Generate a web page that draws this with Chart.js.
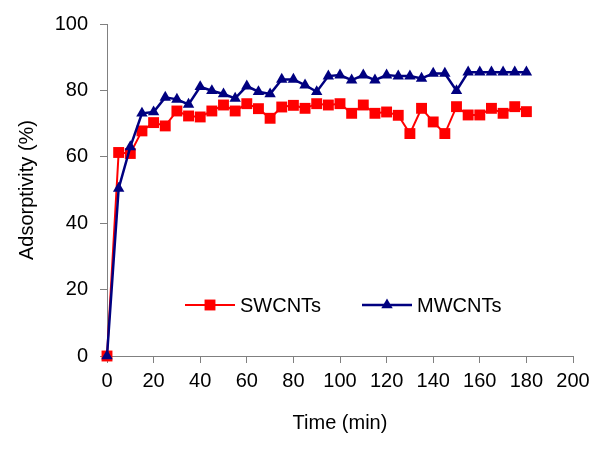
<!DOCTYPE html>
<html><head><meta charset="utf-8">
<script src="https://cdn.jsdelivr.net/npm/chart.js@4/dist/chart.umd.min.js"></script>
<style>html,body{margin:0;padding:0;background:#fff}</style>
</head><body>
<canvas id="c" width="600" height="456"></canvas>
<script>
const timeMin = [0,5,10,15,20,25,30,35,40,45,50,55,60,65,70,75,80,85,90,95,100,105,110,115,120,125,130,135,140,145,150,155,160,165,170,175,180];
const swcnts = [0,61.3,61,67.8,70.3,69.3,73.8,72.3,72,73.8,75.6,73.8,76,74.5,71.6,75,75.5,74.6,76,75.6,76,73.1,75.6,73.1,73.5,72.5,67,74.6,70.5,67,75.1,72.6,72.6,74.6,73.1,75.1,73.6];
const mwcnts = [0,50.5,63,73.1,73.5,77.9,77.3,75.8,81.1,79.9,78.9,77.6,81.3,79.6,78.9,83.3,83.3,81.6,79.6,84.3,84.6,83.1,84.6,83.1,84.6,84.3,84.3,83.6,85.1,85.1,79.9,85.5,85.5,85.5,85.5,85.5,85.5];
const seriesNames = ['SWCNTs','MWCNTs'];
const xTitle = 'Time (min)';
const yTitle = 'Adsorptivity (%)';

const FONT = '"Liberation Sans", Arial, sans-serif';
const AXIS = '#808080';

const inlineLegend = {
  id: 'inlineLegend',
  afterDraw(chart) {
    const ctx = chart.ctx;
    const spots = [{x0:185, x1:235, y:305}, {x0:362, x1:412, y:305}];
    chart.data.datasets.forEach((ds, i) => {
      const s = spots[i];
      ctx.save();
      ctx.strokeStyle = ds.borderColor;
      ctx.lineWidth = ds.borderWidth;
      ctx.beginPath(); ctx.moveTo(s.x0, s.y); ctx.lineTo(s.x1, s.y); ctx.stroke();
      ctx.fillStyle = ds.pointBackgroundColor;
      Chart.helpers.drawPoint(ctx, {pointStyle: ds.pointStyle, radius: ds.pointRadius, rotation: 0, borderWidth: 0}, (s.x0 + s.x1) / 2, s.y);
      ctx.font = '20px ' + FONT;
      ctx.fillStyle = '#000';
      ctx.textAlign = 'left';
      ctx.textBaseline = 'middle';
      ctx.fillText(ds.label, s.x1 + 5, s.y + 1);
      ctx.restore();
    });
  }
};

new Chart(document.getElementById('c'), {
  type: 'line',
  data: {
    datasets: [
      {
        label: seriesNames[0],
        data: timeMin.map((t, i) => ({x: t, y: swcnts[i]})),
        borderColor: '#FF0000', backgroundColor: '#FF0000',
        pointBackgroundColor: '#FF0000', pointBorderWidth: 0,
        borderWidth: 2, pointStyle: 'rect', pointRadius: 7.7,
        tension: 0, clip: false, order: 2
      },
      {
        label: seriesNames[1],
        data: timeMin.map((t, i) => ({x: t, y: mwcnts[i]})),
        borderColor: '#000080', backgroundColor: '#000080',
        pointBackgroundColor: '#000080', pointBorderWidth: 0,
        borderWidth: 2.5, pointStyle: 'triangle', pointRadius: 6.6,
        tension: 0, clip: false, order: 1
      }
    ]
  },
  options: {
    responsive: false,
    animation: false,
    devicePixelRatio: 1,
    layout: {padding: {left: 0, right: 27, top: 24, bottom: 0}},
    plugins: {legend: {display: false}, tooltip: {enabled: false}},
    elements: {point: {hoverRadius: 7}},
    scales: {
      x: {
        type: 'linear', min: 0, max: 200,
        ticks: {stepSize: 20, color: '#000', font: {family: FONT, size: 20}, padding: 6, maxRotation: 0},
        grid: {display: true, drawOnChartArea: false, drawTicks: true, tickLength: 7, color: AXIS},
        border: {display: true, color: AXIS, width: 1},
        title: {display: true, text: xTitle, color: '#000', font: {family: FONT, size: 20}, padding: {top: 0, bottom: 21}},
        afterFit(s) { s.height = 100; }
      },
      y: {
        min: 0, max: 100,
        ticks: {stepSize: 20, color: '#000', font: {family: FONT, size: 20}, padding: 12},
        grid: {display: true, drawOnChartArea: false, drawTicks: true, tickLength: 7, color: AXIS},
        border: {display: true, color: AXIS, width: 1},
        title: {display: true, text: yTitle, color: '#000', font: {family: FONT, size: 20}, padding: {top: 15.5, bottom: 0}},
        afterFit(s) { s.width = 107; }
      }
    }
  },
  plugins: [inlineLegend]
});
</script>
</body></html>
